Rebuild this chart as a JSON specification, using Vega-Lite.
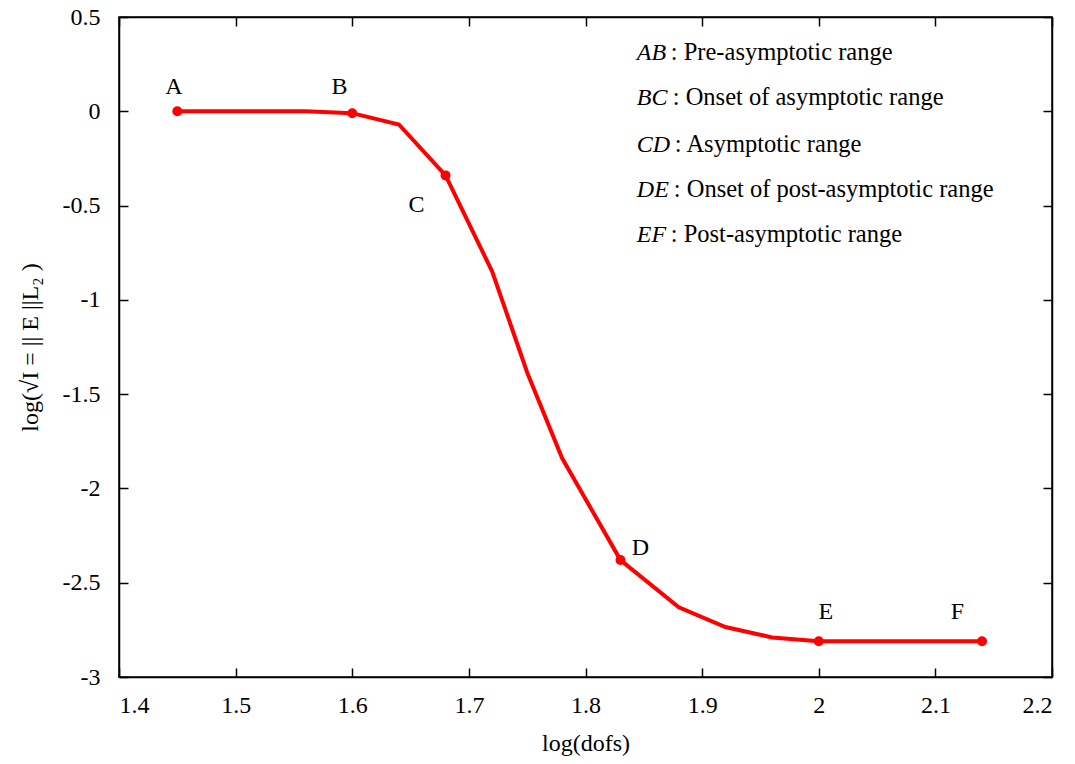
{
  "$schema": "https://vega.github.io/schema/vega-lite/v6.json",
  "width": 933,
  "height": 660,
  "autosize": {"type": "none"},
  "padding": {"left": 119, "top": 17, "right": 23, "bottom": 87},
  "background": "white",
  "config": {
    "font": "Liberation Serif",
    "view": {"stroke": "black", "strokeWidth": 1.5},
    "axis": {
      "grid": false,
      "domainColor": "black",
      "domainWidth": 1.5,
      "tickColor": "black",
      "tickWidth": 1.5,
      "tickSize": -9,
      "labelFont": "Liberation Serif",
      "labelFontSize": 24,
      "labelColor": "black",
      "titleFont": "Liberation Serif",
      "titleFontSize": 24,
      "titleFontWeight": "normal",
      "titleColor": "black"
    }
  },
  "datasets": {
    "curve": [
      {"x": 1.45, "y": 0.0},
      {"x": 1.56, "y": 0.0},
      {"x": 1.60, "y": -0.01},
      {"x": 1.64, "y": -0.07},
      {"x": 1.68, "y": -0.34},
      {"x": 1.72, "y": -0.85},
      {"x": 1.75, "y": -1.385},
      {"x": 1.78, "y": -1.84},
      {"x": 1.83, "y": -2.38},
      {"x": 1.88, "y": -2.63},
      {"x": 1.92, "y": -2.735},
      {"x": 1.96, "y": -2.79},
      {"x": 2.00, "y": -2.81},
      {"x": 2.14, "y": -2.81}
    ],
    "marked": [
      {"x": 1.45, "y": 0.0, "name": "A", "lx": 1.447, "ly": 0.127},
      {"x": 1.60, "y": -0.01, "name": "B", "lx": 1.589, "ly": 0.127},
      {"x": 1.68, "y": -0.34, "name": "C", "lx": 1.655, "ly": -0.498},
      {"x": 1.83, "y": -2.38, "name": "D", "lx": 1.847, "ly": -2.317},
      {"x": 2.00, "y": -2.81, "name": "E", "lx": 2.006, "ly": -2.656},
      {"x": 2.14, "y": -2.81, "name": "F", "lx": 2.119, "ly": -2.656}
    ],
    "notes": [
      {"pair": "AB", "desc": ": Pre-asymptotic range", "x0": 1.844, "xc": 1.8731, "y": 0.307},
      {"pair": "BC", "desc": ": Onset of asymptotic range", "x0": 1.844, "xc": 1.8748, "y": 0.069},
      {"pair": "CD", "desc": ": Asymptotic range", "x0": 1.844, "xc": 1.8766, "y": -0.18},
      {"pair": "DE", "desc": ": Onset of post-asymptotic range", "x0": 1.844, "xc": 1.8757, "y": -0.419},
      {"pair": "EF", "desc": ": Post-asymptotic range", "x0": 1.844, "xc": 1.8731, "y": -0.655}
    ]
  },
  "resolve": {"axis": {"x": "independent", "y": "independent"}},
  "layer": [
    {
      "data": {"name": "curve"},
      "mark": {"type": "line", "color": "#ff0000", "strokeWidth": 4},
      "encoding": {
        "x": {
          "field": "x", "type": "quantitative",
          "scale": {"domain": [1.4, 2.2], "nice": false, "zero": false},
          "axis": {
            "orient": "bottom", "title": "log(dofs)",
            "values": [1.4, 1.5, 1.6, 1.7, 1.8, 1.9, 2.0, 2.1, 2.2],
            "format": "~g", "labelPadding": 25, "titlePadding": 14,
            "labelExpr": "replace(datum.label, '\u2212', '-')"
          }
        },
        "y": {
          "field": "y", "type": "quantitative",
          "scale": {"domain": [-3, 0.5], "nice": false, "zero": false},
          "axis": {
            "orient": "left", "title": "log(\u221aI = || E ||L\u2082 )",
            "values": [-3, -2.5, -2, -1.5, -1, -0.5, 0, 0.5],
            "format": "~g", "labelPadding": 28, "titlePadding": 20,
            "labelExpr": "replace(datum.label, '\u2212', '-')"
          }
        }
      }
    },
    {
      "data": {"name": "marked"},
      "mark": {"type": "point", "shape": "circle", "filled": true, "color": "#ff0000", "size": 100, "opacity": 1},
      "encoding": {
        "x": {
          "field": "x", "type": "quantitative",
          "axis": {"orient": "top", "title": null, "labels": false,
                   "values": [1.4, 1.5, 1.6, 1.7, 1.8, 1.9, 2.0, 2.1, 2.2]}
        },
        "y": {
          "field": "y", "type": "quantitative",
          "axis": {"orient": "right", "title": null, "labels": false,
                   "values": [-3, -2.5, -2, -1.5, -1, -0.5, 0, 0.5]}
        }
      }
    },
    {
      "data": {"name": "marked"},
      "mark": {"type": "text", "fontSize": 24, "color": "black", "align": "center", "baseline": "middle", "font": "Liberation Serif"},
      "encoding": {
        "x": {"field": "lx", "type": "quantitative", "axis": null},
        "y": {"field": "ly", "type": "quantitative", "axis": null},
        "text": {"field": "name"}
      }
    },
    {
      "data": {"name": "notes"},
      "mark": {"type": "text", "fontSize": 24, "fontStyle": "italic", "color": "black", "align": "left", "baseline": "middle", "font": "Liberation Serif"},
      "encoding": {
        "x": {"field": "x0", "type": "quantitative", "axis": null},
        "y": {"field": "y", "type": "quantitative", "axis": null},
        "text": {"field": "pair"}
      }
    },
    {
      "data": {"name": "notes"},
      "mark": {"type": "text", "fontSize": 24.5, "color": "black", "align": "left", "baseline": "middle", "font": "Liberation Serif"},
      "encoding": {
        "x": {"field": "xc", "type": "quantitative", "axis": null},
        "y": {"field": "y", "type": "quantitative", "axis": null},
        "text": {"field": "desc"}
      }
    }
  ]
}
